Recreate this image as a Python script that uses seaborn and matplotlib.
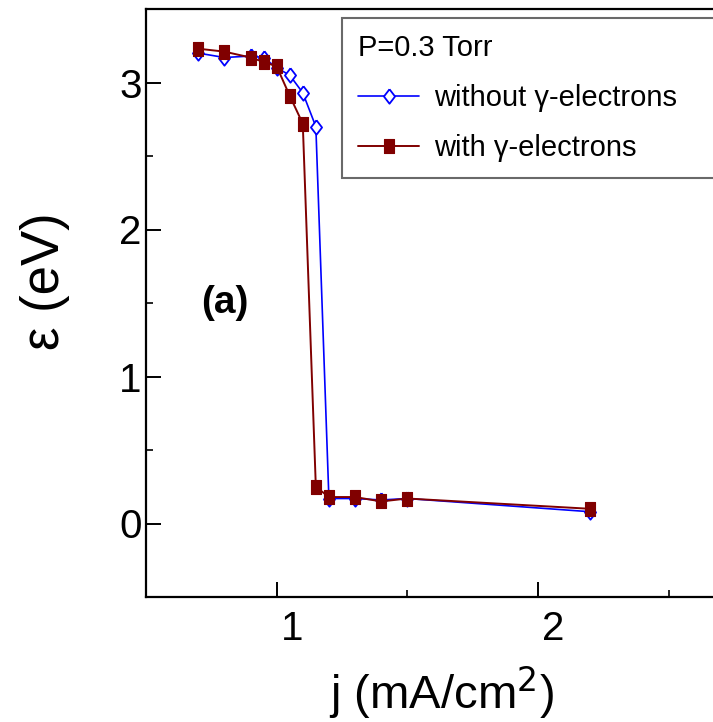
import numpy as np
import pandas as pd
import matplotlib
matplotlib.use("Agg")
import matplotlib.pyplot as plt
import matplotlib.transforms as mtransforms
from matplotlib.ticker import MultipleLocator
import seaborn as sns

# ---- data ----
j_values = [0.7, 0.8, 0.9, 0.95, 1.0, 1.05, 1.1, 1.15, 1.2, 1.3, 1.4, 1.5, 2.2]
eps_without_gamma = [3.20, 3.17, 3.18, 3.17, 3.10, 3.05, 2.93, 2.70, 0.17, 0.17, 0.16, 0.17, 0.08]
eps_with_gamma = [3.23, 3.21, 3.17, 3.14, 3.11, 2.91, 2.72, 0.25, 0.18, 0.18, 0.15, 0.17, 0.10]
legend_title = "P=0.3 Torr"
label_without = "without γ-electrons"
label_with = "with γ-electrons"
x_ticks = [1, 2]
y_ticks = [0, 1, 2, 3]

sns.set_style("ticks")
plt.rcParams['font.family'] = ['Liberation Sans', 'DejaVu Sans']
for key in ["text.color", "axes.labelcolor", "xtick.color", "ytick.color", "axes.edgecolor"]:
    plt.rcParams[key] = "black"

fig = plt.figure(figsize=(7.13, 7.22), dpi=100)
ax = fig.add_axes([146/713, 1 - 597/722, 1 - 146/713, (597 - 9)/722])

df = pd.DataFrame({"j": j_values, "without": eps_without_gamma, "with": eps_with_gamma})

diamond = [(0, 1), (0.77, 0), (0, -1), (-0.77, 0), (0, 1)]
rect = [(-0.7, -1), (0.7, -1), (0.7, 1), (-0.7, 1), (-0.7, -1)]

sns.lineplot(data=df, x="j", y="without", ax=ax, color="#0000FF", linewidth=1.2,
             marker=diamond, markersize=10.4, markerfacecolor="white",
             markeredgecolor="#0000FF", markeredgewidth=1.3, label=label_without,
             sort=False)
sns.lineplot(data=df, x="j", y="with", ax=ax, color="#800000", linewidth=1.4,
             marker=rect, markersize=10, markerfacecolor="#800000",
             markeredgecolor="#800000", markeredgewidth=0.8, label=label_with, sort=False)

ax.set_xlim(0.5, 2.67)
ax.set_ylim(-0.5, 3.5)
ax.set_xticks(x_ticks)
ax.set_yticks(y_ticks)
ax.xaxis.set_minor_locator(MultipleLocator(0.5))
ax.yaxis.set_minor_locator(MultipleLocator(0.5))
ax.tick_params(which="major", direction="in", length=11, width=1.4, labelsize=29,
               colors="black")
ax.tick_params(which="minor", direction="in", length=5, width=1.2)
ax.tick_params(axis="x", which="major", pad=9)
ax.tick_params(axis="y", which="major", pad=3)

for side in ["left", "bottom", "top"]:
    ax.spines[side].set_visible(True)
    ax.spines[side].set_linewidth(1.6)
    ax.spines[side].set_color("black")
ax.spines["right"].set_visible(False)

# x tick labels sit slightly right of their ticks in the reference
offset = mtransforms.ScaledTranslation(15/100, 0, fig.dpi_scale_trans)
for lbl in ax.get_xticklabels():
    lbl.set_transform(lbl.get_transform() + offset)

ax.set_xlabel("j (mA/cm$^2$)", fontsize=34, labelpad=12)
ax.xaxis.label.set_x(0.522)
ax.set_ylabel("ε (eV)", fontsize=38)
ax.yaxis.set_label_coords(-0.134, 0.537)

ax.text(0.8, 1.5, "(a)", fontsize=28, fontweight="bold", ha="center", va="center")

handles, labels = ax.get_legend_handles_labels()
if ax.get_legend():
    ax.get_legend().remove()
leg = fig.legend(handles, labels, title=legend_title, loc="upper left",
                 bbox_to_anchor=(342/713, 1 - 18/722, 0.6, 0.0),
                 mode="expand", frameon=True, fancybox=False,
                 prop={"size": 21}, title_fontproperties={"size": 21},
                 handlelength=2.1, handletextpad=0.5, borderpad=0.55, labelspacing=0.75,
                 alignment="left", borderaxespad=0)
leg.get_frame().set_edgecolor("#444444")
leg.get_frame().set_linewidth(1.5)

fig.savefig("out.png", dpi=100)
